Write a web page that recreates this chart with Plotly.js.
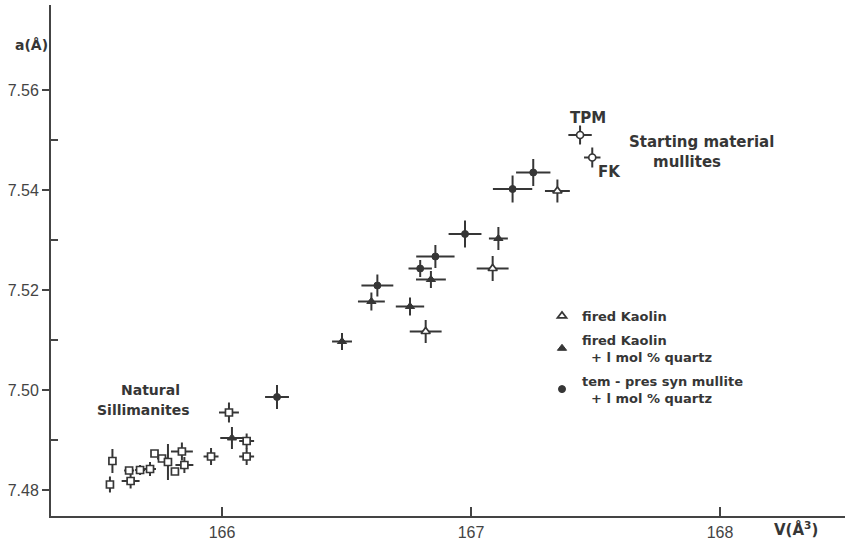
<!DOCTYPE html>
<html><head><meta charset="utf-8">
<script src="https://cdn.plot.ly/plotly-3.0.1.min.js"></script>
<style>html,body{margin:0;padding:0;background:#fff}#chart{width:845px;height:547px}</style>
</head><body><div id="chart"></div>
<script>
// Natural sillimanites (open squares)
const sillV    = [165.560,165.550,165.627,165.633,165.671,165.711,165.729,165.759,165.783,165.811,165.839,165.849,165.956,166.028,166.099,166.099];
const sillA    = [7.4858,7.4811,7.4839,7.4818,7.4840,7.4842,7.4873,7.4863,7.4856,7.4837,7.4877,7.4850,7.4867,7.4955,7.4898,7.4867];
const sillVerr = [0,0,0.02,0.036,0.02,0.024,0,0.02,0,0,0.044,0.036,0.03,0.04,0.03,0.03];
const sillAerr = [0.0024,0.0016,0,0.0015,0.001,0.0014,0,0,0.0036,0,0.0018,0.0016,0.0017,0.002,0.0015,0.0017];

// fired Kaolin (open triangles)
const fkV    = [167.087,166.818,167.347];
const fkA    = [7.5243,7.5117,7.5398];
const fkVerr = [0.064,0.064,0.05];
const fkAerr = [0.0025,0.0023,0.0023];

// fired Kaolin + 1 mol % quartz (filled triangles)
const fkqV    = [166.839,166.600,166.755,166.482,167.110,166.040];
const fkqA    = [7.5221,7.5177,7.5167,7.5097,7.5303,7.4904];
const fkqVerr = [0.06,0.054,0.057,0.04,0.038,0.047];
const fkqAerr = [0.0017,0.0018,0.0018,0.0017,0.0023,0.0022];

// tem-pres syn mullite + 1 mol % quartz (filled circles)
const synV    = [166.857,166.796,166.624,166.976,167.250,167.167,166.221];
const synA    = [7.5267,7.5243,7.5209,7.5312,7.5435,7.5402,7.4986];
const synVerr = [0.077,0.047,0.064,0.066,0.069,0.079,0.048];
const synAerr = [0.0023,0.0017,0.0022,0.0027,0.0027,0.0027,0.0024];

// Starting material mullites
const startNames = ['TPM','FK'];
const startV    = [167.438,167.487];
const startA    = [7.551,7.5465];
const startVerr = [0.047,0.033];
const startAerr = [0.0019,0.002];

// Axis ticks
const xTickVals = [166,167,168];
const xTickText = ['166','167','168'];
const yTickVals = [7.48,7.50,7.52,7.54,7.56];
const yTickText = ['7.48','7.50','7.52','7.54','7.56'];
const yMinorVals = [7.49,7.51,7.53,7.55];

const INK = '#363636';
const FONT = 'DejaVu Sans, Arial, sans-serif';
function eb(arr){ return {type:'data', array:arr, visible:true, color:INK, thickness:2, width:0}; }

const traces = [
  {x:sillV, y:sillA, type:'scatter', mode:'markers', name:'Natural Sillimanites', showlegend:false,
   marker:{symbol:'square', size:7, color:'#fff', line:{color:INK, width:1.7}},
   error_x:eb(sillVerr), error_y:eb(sillAerr)},
  {x:fkV, y:fkA, type:'scatter', mode:'markers', name:'fired Kaolin', legendgroup:'g1',
   marker:{symbol:'triangle-up', size:8, color:'#fff', line:{color:INK, width:1.7}},
   error_x:eb(fkVerr), error_y:eb(fkAerr)},
  {x:fkqV, y:fkqA, type:'scatter', mode:'markers', name:'fired Kaolin<br>&nbsp;&nbsp;+ l mol % quartz', legendgroup:'g2',
   marker:{symbol:'triangle-up', size:8, color:INK, line:{color:INK, width:1}},
   error_x:eb(fkqVerr), error_y:eb(fkqAerr)},
  {x:synV, y:synA, type:'scatter', mode:'markers', name:'tem - pres syn mullite<br>&nbsp;&nbsp;+ l mol % quartz', legendgroup:'g3',
   marker:{symbol:'circle', size:7, color:INK, line:{color:INK, width:1}},
   error_x:eb(synVerr), error_y:eb(synAerr)},
  {x:startV, y:startA, text:startNames, type:'scatter', mode:'markers', name:'Starting material mullites', showlegend:false,
   marker:{symbol:'circle', size:7, color:'#fff', line:{color:INK, width:1.7}},
   error_x:eb(startVerr), error_y:eb(startAerr)}
];

// pixel -> paper helpers for text placement
const L = 51, R = 845, T = 5, B = 516;
function px(x){ return (x - L) / (R - L); }
function py(y){ return (B - y) / (B - T); }
function fnt(s){ return {family:FONT, size:s, color:INK, weight:'bold'}; }
function ann(text, x, y, size){
  return {text:text, xref:'paper', yref:'paper', x:px(x), y:py(y), showarrow:false,
    xanchor:'center', yanchor:'middle', font:fnt(size)};
}

const layout = {
  width:845, height:547,
  paper_bgcolor:'#fff', plot_bgcolor:'#fff',
  margin:{l:L, r:0, t:T, b:547-B},
  showlegend:true,
  legend:{x:px(542), y:py(301), xanchor:'left', yanchor:'top', bgcolor:'rgba(0,0,0,0)',
    font:fnt(13), itemwidth:30, tracegroupgap:4},
  xaxis:{range:[165.3133,168.502], showgrid:false, zeroline:false, showline:true, linecolor:'#444', linewidth:2,
    ticks:'inside', ticklen:9, tickwidth:1.5, tickcolor:'#444', tickmode:'array', tickvals:xTickVals, ticktext:xTickText,
    tickfont:{family:'Liberation Sans, Arial, sans-serif', size:16, color:'#444'}, ticklabelstandoff:1},
  yaxis:{range:[7.4748,7.577], showgrid:false, zeroline:false, showline:true, linecolor:'#444', linewidth:2,
    ticks:'outside', ticklen:7, tickwidth:1.5, tickcolor:'#444', tickmode:'array', tickvals:yTickVals, ticktext:yTickText,
    tickfont:{family:'Liberation Sans, Arial, sans-serif', size:16, color:'#444'}, ticklabelstandoff:0,
    minor:{tickmode:'array', tickvals:yMinorVals, ticks:'inside', ticklen:7, tickwidth:1.5, tickcolor:'#444'}},
  annotations:[
    ann('TPM', 588, 118, 15),
    ann('FK', 609, 172, 15),
    ann('Starting material', 701, 142, 15),
    ann('mullites', 687, 162, 15),
    ann('Natural', 150, 390, 14),
    ann('Sillimanites', 143, 410, 14),
    ann('a(Å)', 31, 45, 14),
    ann('V(Å<sup>3</sup>)', 796, 529, 15)
  ]
};

Plotly.newPlot('chart', traces, layout, {displayModeBar:false, staticPlot:true});
</script>
</body></html>
